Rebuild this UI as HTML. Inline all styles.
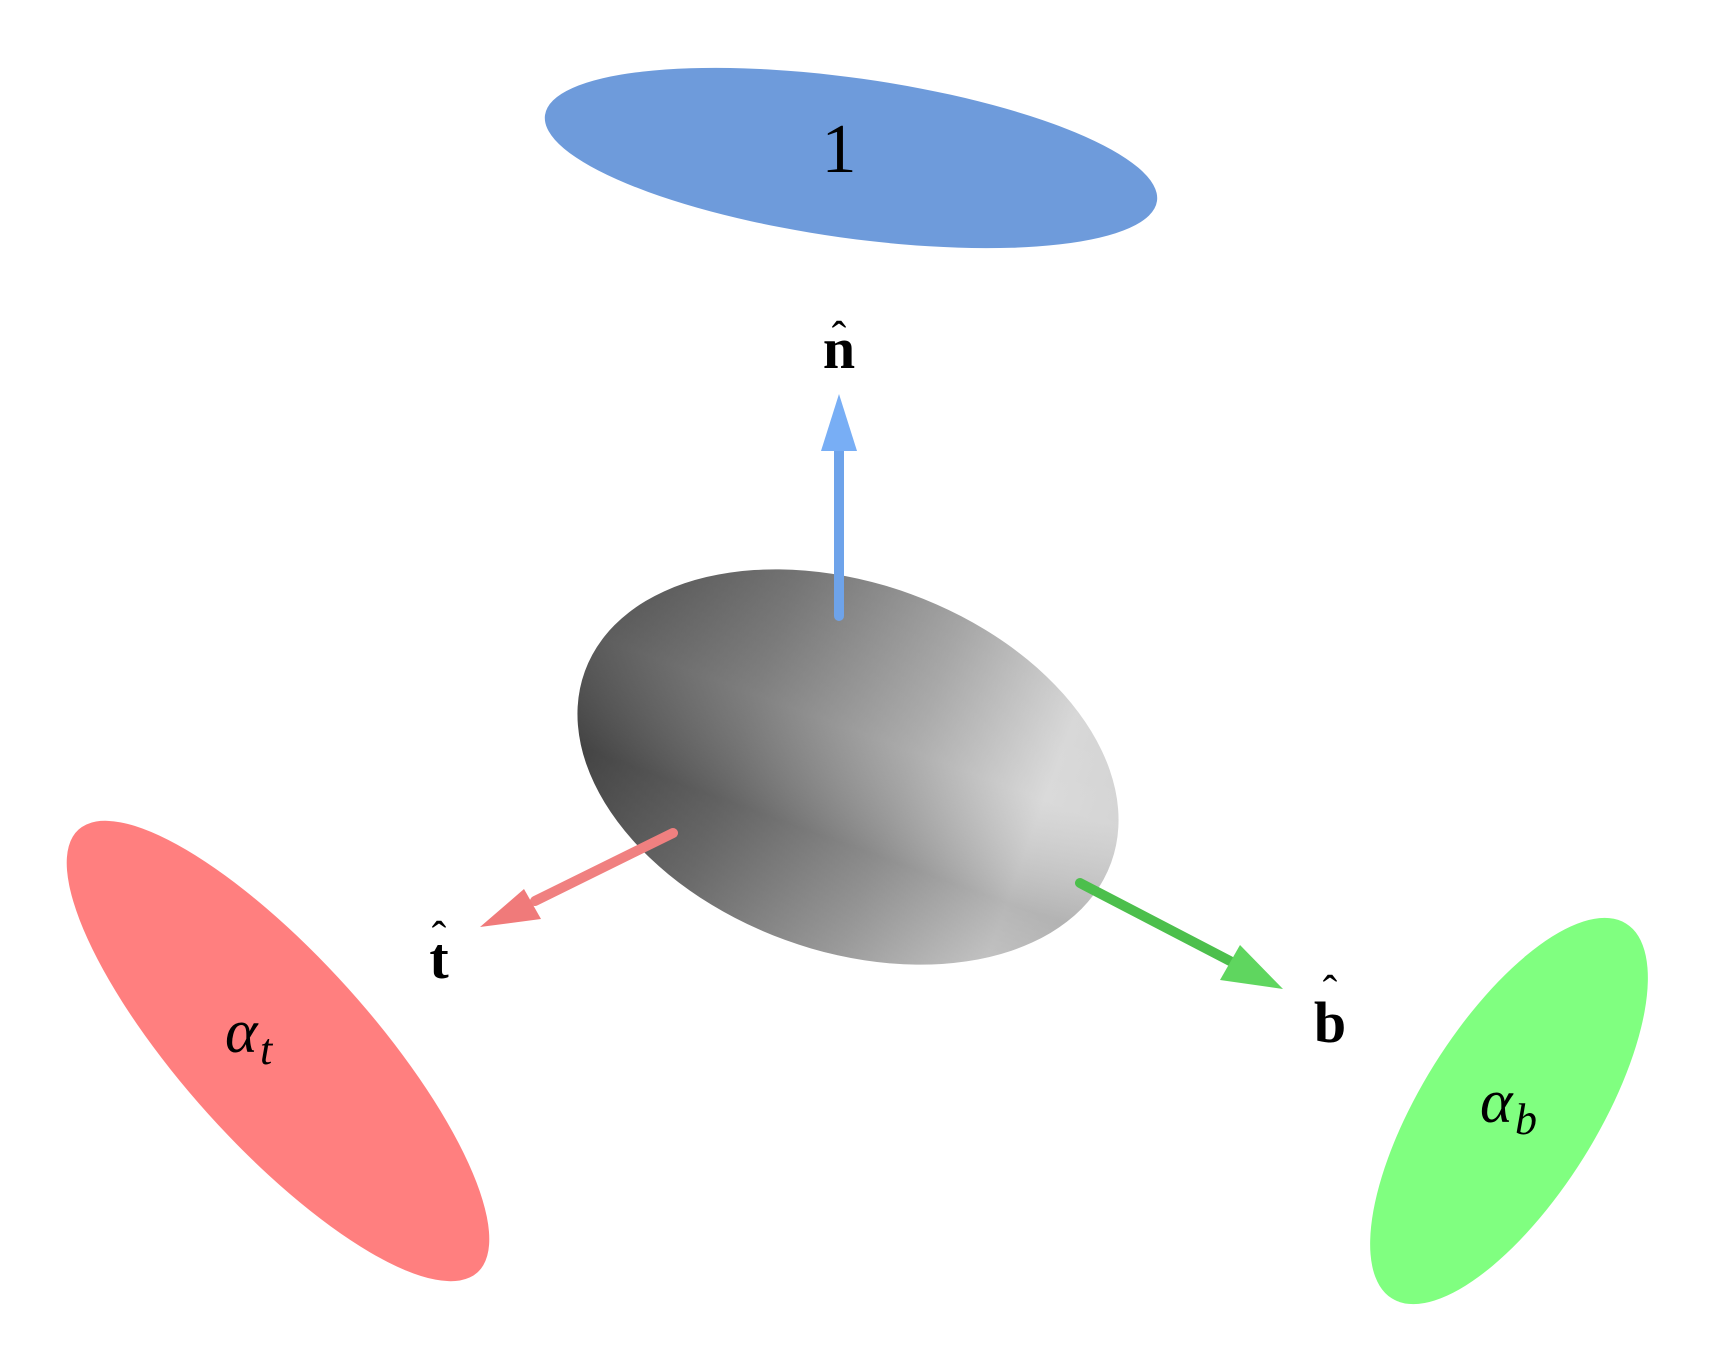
<!DOCTYPE html>
<html><head><meta charset="utf-8"><style>html,body{margin:0;padding:0;background:#fff}svg{display:block}</style></head>
<body>
<svg width="1722" height="1350" viewBox="0 0 1722 1350" xmlns="http://www.w3.org/2000/svg">
<defs>
<linearGradient id="g" x1="0" y1="0.5" x2="1" y2="0.5">
<stop offset="0" stop-color="#4a4a4a"/>
<stop offset="0.3" stop-color="#727272"/>
<stop offset="0.6" stop-color="#a4a4a4"/>
<stop offset="0.85" stop-color="#d6d6d6"/>
<stop offset="1" stop-color="#d0d0d0"/>
</linearGradient>
<linearGradient id="g2" x1="0.5" y1="0" x2="0.5" y2="1">
<stop offset="0" stop-color="#fff" stop-opacity="0"/>
<stop offset="0.4" stop-color="#fff" stop-opacity="0.1"/>
<stop offset="0.7" stop-color="#000" stop-opacity="0.15"/>
<stop offset="1" stop-color="#000" stop-opacity="0.05"/>
</linearGradient>
</defs>
<ellipse cx="851" cy="158" rx="309" ry="80" transform="rotate(8 851 158)" fill="#6e9bdb"/>
<ellipse cx="278" cy="1051" rx="298" ry="94" transform="rotate(48 278 1051)" fill="#ff7f7f"/>
<ellipse cx="1509" cy="1111" rx="221" ry="88" transform="rotate(-58 1509 1111)" fill="#80ff80"/>
<g transform="rotate(20 848 767)">
<ellipse cx="848" cy="767" rx="280" ry="184" fill="url(#g)"/>
<ellipse cx="848" cy="767" rx="280" ry="184" fill="url(#g2)"/>
</g>
<line x1="839" y1="616" x2="839" y2="450" stroke="#6ea3ea" stroke-width="10" stroke-linecap="round"/>
<polygon points="839,394 821,451 857,451" fill="#78aef5"/>
<line x1="673" y1="833" x2="535" y2="901" stroke="#f08080" stroke-width="10" stroke-linecap="round"/>
<polygon points="480,927 524,889 541,919" fill="#f07a7a"/>
<line x1="1080" y1="883" x2="1230" y2="961" stroke="#4cbf4c" stroke-width="10" stroke-linecap="round"/>
<polygon points="1283,989 1220,980 1240,945" fill="#5fd65f"/>
<g font-family="'Liberation Serif', serif" fill="#000">
<text x="839" y="172" font-size="70" text-anchor="middle">1</text>
<text x="839" y="368" font-size="58" font-weight="bold" text-anchor="middle">n</text>
<text x="839" y="352" font-size="44" text-anchor="middle">ˆ</text>
<text x="439" y="978" font-size="58" font-weight="bold" text-anchor="middle">t</text>
<text x="439" y="952" font-size="44" text-anchor="middle">ˆ</text>
<text x="1330" y="1042" font-size="58" font-weight="bold" text-anchor="middle">b</text>
<text x="1330" y="1006" font-size="44" text-anchor="middle">ˆ</text>
<text x="225" y="1052" font-size="62" font-style="italic">α</text>
<text x="260" y="1064" font-size="44" font-style="italic">t</text>
<text x="1480" y="1122" font-size="62" font-style="italic">α</text>
<text x="1515" y="1134" font-size="44" font-style="italic">b</text>
</g>
</svg>
</body></html>
